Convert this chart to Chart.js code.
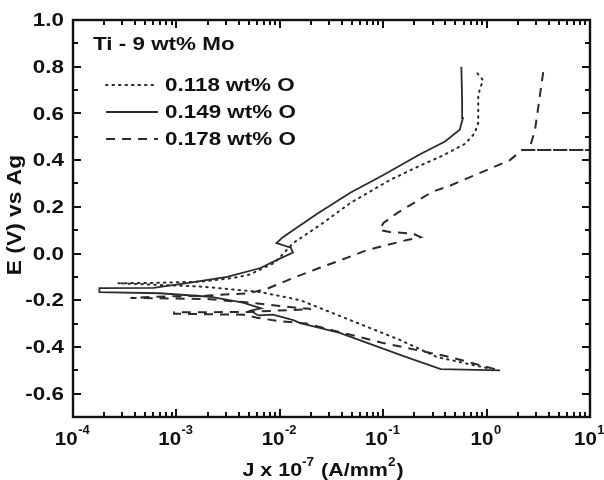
<!DOCTYPE html>
<html>
<head>
<meta charset="utf-8">
<script src="https://cdn.jsdelivr.net/npm/chart.js@4/dist/chart.umd.min.js"></script>
<style>
  html, body { margin: 0; padding: 0; background: #fff; }
  #wrap { width: 604px; height: 480px; position: relative; }
</style>
</head>
<body>
<div id="wrap"><canvas id="c" width="604" height="480"></canvas></div>
<script>
// ---- data ----
const seriesLabels = ['0.118 wt% O', '0.149 wt% O', '0.178 wt% O'];
const chartTitle = 'Ti - 9 wt% Mo';

const j118 = [1.0, 0.33, 0.145, 0.048, 0.0158, 0.0065, 0.0018, 0.00027, 0.0006, 0.0018, 0.0035, 0.0051, 0.0089, 0.0135, 0.026, 0.048, 0.116, 0.237, 0.38, 0.62, 0.77, 0.83, 0.83, 0.92, 0.81];
const e118 = [-0.49, -0.443, -0.37, -0.285, -0.2, -0.165, -0.142, -0.127, -0.126, -0.12, -0.105, -0.09, -0.04, 0.045, 0.13, 0.216, 0.315, 0.38, 0.42, 0.47, 0.516, 0.56, 0.68, 0.743, 0.773];

const j149 = [1.35, 0.36, 0.16, 0.07, 0.038, 0.0158, 0.0135, 0.0086, 0.0062, 0.0052, 0.0066, 0.0044, 0.0021, 0.00069, 0.00018, 0.00018, 0.0006, 0.00126, 0.0031, 0.0065, 0.0093, 0.0134, 0.0128, 0.0093, 0.0107, 0.023, 0.048, 0.0995, 0.227, 0.396, 0.55, 0.59, 0.58, 0.57];
const e149 = [-0.50, -0.495, -0.44, -0.383, -0.34, -0.298, -0.285, -0.262, -0.265, -0.245, -0.235, -0.21, -0.185, -0.17, -0.165, -0.148, -0.147, -0.127, -0.10, -0.062, -0.028, 0.004, 0.025, 0.045, 0.07, 0.17, 0.26, 0.335, 0.425, 0.48, 0.53, 0.58, 0.65, 0.80];

const j178 = [1.2, 0.9, 0.44, 0.1, 0.032, 0.018, 0.01, 0.006, 0.0045, 0.00095, 0.00095, 0.005, 0.009, 0.02, 0.01, 0.005, 0.002, 0.00036, 0.0006, 0.002, 0.005, 0.0076, 0.0134, 0.023, 0.038, 0.07, 0.17, 0.23, 0.195, 0.116, 0.093, 0.1, 0.136, 0.30, 0.44, 1.0, 1.68, 2.2, 10.5, 2.45, 2.63, 2.94, 3.59];
const e178 = [-0.495, -0.48, -0.443, -0.383, -0.328, -0.30, -0.29, -0.275, -0.262, -0.258, -0.252, -0.25, -0.245, -0.238, -0.225, -0.21, -0.195, -0.19, -0.185, -0.18, -0.17, -0.15, -0.105, -0.065, -0.03, 0.015, 0.058, 0.07, 0.085, 0.092, 0.10, 0.13, 0.173, 0.265, 0.29, 0.357, 0.40, 0.443, 0.443, 0.443, 0.456, 0.53, 0.80];

const xTickExps = [-4, -3, -2, -1, 0, 1];
const yTickLabels = ['-0.6', '-0.4', '-0.2', '0.0', '0.2', '0.4', '0.6', '0.8', '1.0'];
const xTitleParts = ['J x 10', '-7', ' (A/mm', '2', ')'];
const yTitle = 'E (V) vs Ag';

// ---- helpers ----
const pts = (xs, ys) => xs.map((x, i) => ({ x: x, y: ys[i] }));
const INK = '#111';
const LINE = '#2b2b2b';
const FONT = 'bold 19px "Liberation Sans", Arial, sans-serif';
const SUPFONT = 'bold 12px "Liberation Sans", Arial, sans-serif';

function txt(ctx, s, x, y, font, align, base, sx) {
  ctx.save();
  ctx.translate(x, y);
  ctx.scale(sx, 1);
  ctx.font = font;
  ctx.textAlign = align;
  ctx.textBaseline = base;
  ctx.fillStyle = INK;
  ctx.fillText(s, 0, 0);
  ctx.restore();
}
function tw(ctx, s, font, sx) { ctx.font = font; return ctx.measureText(s).width * sx; }

function drawTicks(ctx, a, xs, ys) {
  ctx.save();
  ctx.fillStyle = INK;
  for (let k = -7; k <= 10; k++) {
    const py = Math.round(ys.getPixelForValue(k / 10));
    const len = (k % 2 === 0) ? 8 : 5;
    ctx.fillRect(a.left, py - 1, len, 2);
    ctx.fillRect(a.right - len, py - 1, len, 2);
  }
  for (let ex = -4; ex <= 0; ex++) {
    for (let m = 1; m <= 9; m++) {
      const px = Math.round(xs.getPixelForValue(m * Math.pow(10, ex)));
      const len = (m === 1) ? 8 : 5;
      ctx.fillRect(px - 1, a.bottom - len, 2, len);
      ctx.fillRect(px - 1, a.top, 2, len);
    }
  }
  ctx.restore();
}

const deco = {
  id: 'deco',
  afterDraw(chart) {
    const ctx = chart.ctx, a = chart.chartArea;
    const xs = chart.scales.x, ys = chart.scales.y;
    ctx.save();
    ctx.strokeStyle = INK;
    ctx.lineWidth = 2.4;
    ctx.strokeRect(a.left, a.top, a.right - a.left, a.bottom - a.top);
    ctx.restore();

    yTickLabels.forEach(s => {
      const py = ys.getPixelForValue(parseFloat(s));
      txt(ctx, s, a.left - 9, py + 1, FONT, 'right', 'middle', 1.18);
    });
    xTickExps.forEach(ex => {
      const px = xs.getPixelForValue(Math.pow(10, ex));
      const sBase = '10', sExp = String(ex);
      const wb = tw(ctx, sBase, FONT, 1.08), we = tw(ctx, sExp, SUPFONT, 1.08);
      const x0 = px - (wb + we) / 2 - 1;
      txt(ctx, sBase, x0, 445, FONT, 'left', 'alphabetic', 1.08);
      txt(ctx, sExp, x0 + wb + 0.5, 434, SUPFONT, 'left', 'alphabetic', 1.08);
    });
    {
      const sx = 1.13;
      const fonts = [FONT, SUPFONT, FONT, SUPFONT, FONT];
      const widths = xTitleParts.map((s, i) => tw(ctx, s, fonts[i], sx));
      const total = widths.reduce((p, c) => p + c, 0);
      let x = 322 - total / 2;
      xTitleParts.forEach((s, i) => {
        const sup = fonts[i] === SUPFONT;
        txt(ctx, s, x, sup ? 466 : 476, fonts[i], 'left', 'alphabetic', sx);
        x += widths[i] + (sup ? 1 : 0);
      });
    }
    ctx.save();
    ctx.translate(21, 215);
    ctx.rotate(-Math.PI / 2);
    txt(ctx, yTitle, 0, 0, 'bold 20px "Liberation Sans", Arial, sans-serif', 'center', 'alphabetic', 1.14);
    ctx.restore();

    txt(ctx, chartTitle, 93, 45, FONT, 'left', 'middle', 1.18);
    const rows = [85, 112, 139];
    chart.data.datasets.forEach((ds, i) => {
      const y = rows[i];
      ctx.save();
      ctx.strokeStyle = ds.borderColor;
      ctx.lineWidth = ds.borderWidth;
      ctx.setLineDash(ds.borderDash || []);
      ctx.lineCap = ds.borderCapStyle || 'butt';
      ctx.beginPath();
      ctx.moveTo(106, y); ctx.lineTo(158, y);
      ctx.stroke();
      ctx.restore();
      txt(ctx, ds.label, 165, y + 1, FONT, 'left', 'middle', 1.18);
    });

    drawTicks(ctx, a, xs, ys);
  }
};

new Chart(document.getElementById('c'), {
  type: 'line',
  data: {
    datasets: [
      { label: seriesLabels[0], data: pts(j118, e118), borderColor: LINE, borderWidth: 2, borderDash: [1.5, 5], borderCapStyle: 'round' },
      { label: seriesLabels[1], data: pts(j149, e149), borderColor: LINE, borderWidth: 1.8, borderDash: [] },
      { label: seriesLabels[2], data: pts(j178, e178), borderColor: LINE, borderWidth: 2, borderDash: [9, 7] }
    ]
  },
  options: {
    responsive: false,
    animation: false,
    devicePixelRatio: 1,
    layout: { padding: { left: 73, top: 20, right: 14, bottom: 63 } },
    elements: { point: { radius: 0 }, line: { tension: 0, fill: false } },
    plugins: { legend: { display: false }, tooltip: { enabled: false } },
    scales: {
      x: { type: 'logarithmic', min: 1e-4, max: 10, display: false },
      y: { type: 'linear', min: -0.7, max: 1.0, display: false }
    }
  },
  plugins: [deco]
});
</script>
</body>
</html>
